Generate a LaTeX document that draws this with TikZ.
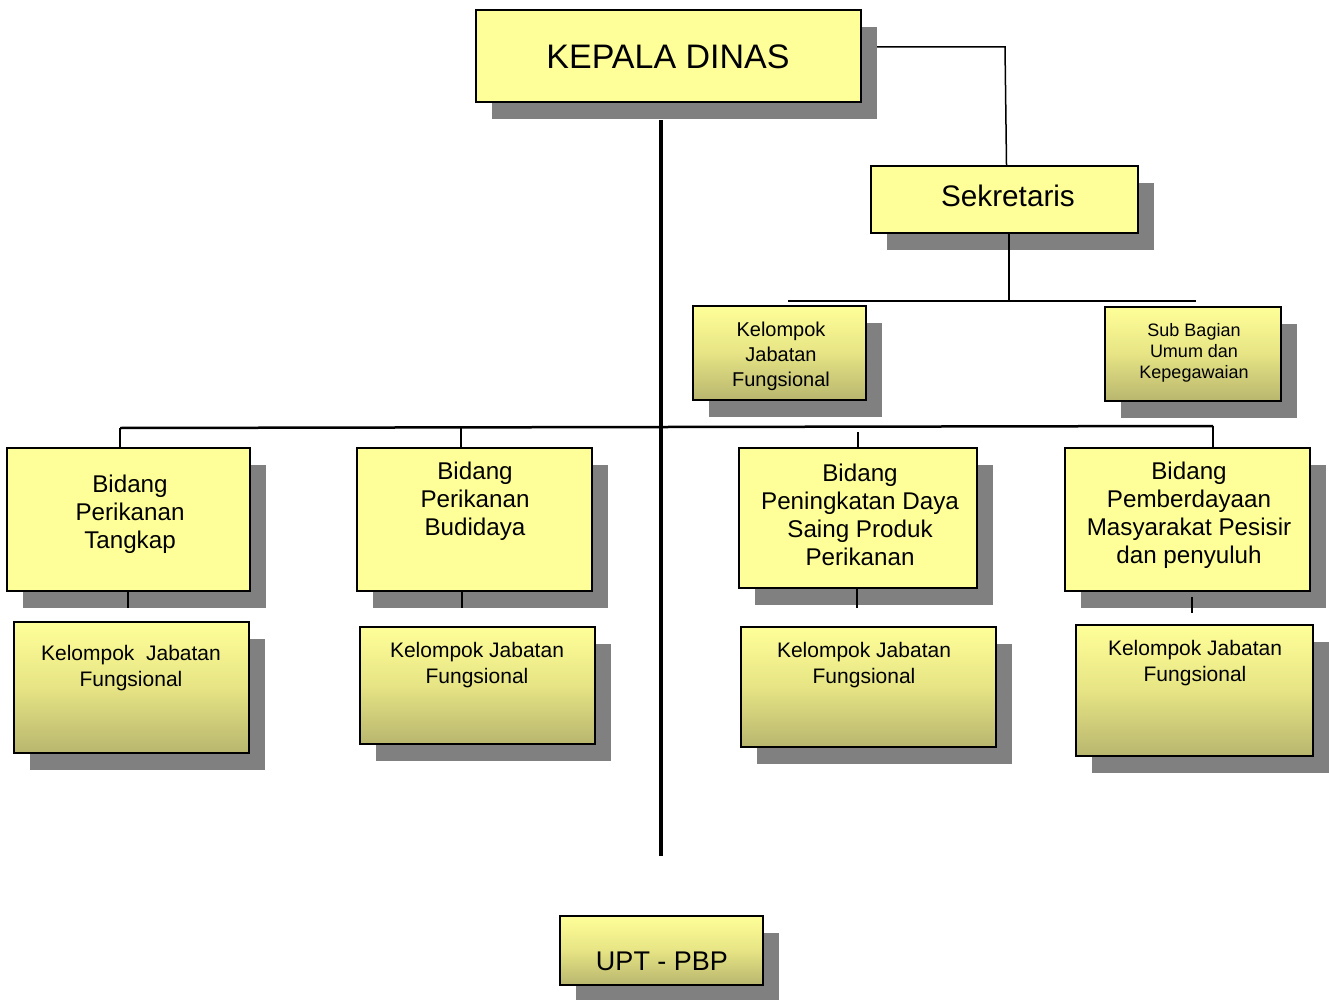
\documentclass[tikz,border=0pt]{standalone}
\usepackage{fontspec}
\setmainfont{Liberation Sans}
\usetikzlibrary{shadows}
\definecolor{boxyellow}{RGB}{255,255,153}
\definecolor{boxmid}{RGB}{230,228,132}
\definecolor{boxolive}{RGB}{184,182,110}
\definecolor{shadowgray}{RGB}{128,128,128}
\tikzset{
  orgbox/.style={draw=black, line width=2pt, fill=boxyellow, inner sep=0pt,
    general shadow={fill=shadowgray, shadow xshift=16pt, shadow yshift=-17pt}},
  gradbox/.style={orgbox, top color=boxyellow, bottom color=boxolive, middle color=boxmid},
  txt/.style={inner sep=0pt, align=center, text=black},
  thin link/.style={line width=1.5pt, black},
  bus/.style={line width=2.5pt, black},
  spine/.style={line width=4pt, black},
}
\begin{document}
\begin{tikzpicture}[x=1pt, y=-1pt]
\useasboundingbox (0,0) rectangle (1329,1000);

% boxes
\node[orgbox, minimum width=385pt, minimum height=92pt] (kd) at (668.5,56) {};
\node[orgbox, minimum width=267pt, minimum height=67pt] (sek) at (1004.5,199.5) {};
\node[gradbox, minimum width=173pt, minimum height=94pt] (kjs) at (779.5,353) {};
\node[gradbox, minimum width=176pt, minimum height=94pt] (sub) at (1193,354) {};
\node[orgbox, minimum width=243pt, minimum height=143pt] (b1) at (128.5,519.5) {};
\node[orgbox, minimum width=235pt, minimum height=143pt] (b2) at (474.5,519.5) {};
\node[orgbox, minimum width=238pt, minimum height=140pt] (b3) at (858,518) {};
\node[orgbox, minimum width=245pt, minimum height=143pt] (b4) at (1187.5,519.5) {};
\node[gradbox, minimum width=235pt, minimum height=131pt] (k1) at (131.5,687.5) {};
\node[gradbox, minimum width=235pt, minimum height=117pt] (k2) at (477.5,685.5) {};
\node[gradbox, minimum width=255pt, minimum height=120pt] (k3) at (868.5,687) {};
\node[gradbox, minimum width=237pt, minimum height=131pt] (k4) at (1194.5,690.5) {};
\node[gradbox, minimum width=203pt, minimum height=69pt] (upt) at (661.5,950.5) {};

% texts
\node[txt, font=\fontsize{34}{39}\selectfont] (tkd) at (668,57) {KEPALA DINAS};
\node[txt, font=\fontsize{29.7}{34}\selectfont] (tsek) at (1008,195.5) {Sekretaris};
\node[txt, font=\fontsize{20}{25}\selectfont] (tkjs) at (781,356) {Kelompok\\Jabatan\\Fungsional};
\node[txt, font=\fontsize{18}{21}\selectfont] (tsub) at (1194,353) {Sub Bagian\\Umum dan\\Kepegawaian};
\node[txt, font=\fontsize{24.2}{28}\selectfont] (tb1) at (130,514) {Bidang\\Perikanan\\Tangkap};
\node[txt, font=\fontsize{24.2}{28}\selectfont] (tb2) at (475,501) {Bidang\\Perikanan\\Budidaya};
\node[txt, font=\fontsize{24.2}{28}\selectfont] (tb3) at (860,515) {Bidang\\Peningkatan Daya\\Saing Produk\\Perikanan};
\node[txt, font=\fontsize{24.2}{28}\selectfont] (tb4) at (1189,515) {Bidang\\Pemberdayaan\\Masyarakat Pesisir\\dan penyuluh};
\node[txt, font=\fontsize{21}{26}\selectfont] (tk1) at (131,668) {Kelompok~ Jabatan\\Fungsional};
\node[txt, font=\fontsize{21}{26}\selectfont] (tk2) at (477,665) {Kelompok Jabatan\\Fungsional};
\node[txt, font=\fontsize{21}{26}\selectfont] (tk3) at (864,665) {Kelompok Jabatan\\Fungsional};
\node[txt, font=\fontsize{21}{26}\selectfont] (tk4) at (1195,663) {Kelompok Jabatan\\Fungsional};
\node[txt, font=\fontsize{27}{31}\selectfont] (tupt) at (662,961) {UPT - PBP};

% coordinates for free ends
\coordinate (kdR) at (877,47);
\coordinate (sekJ) at (1009,301);
\coordinate (busSL) at (788,301);
\coordinate (busSR) at (1196,301);
\coordinate (busL) at (120,428);
\coordinate (busR) at (1213,426);
\coordinate (spTop) at (661,120);
\coordinate (spBot) at (661,856);
\coordinate (d1) at (128,608);
\coordinate (d2) at (462,608);
\coordinate (d3) at (857,608);
\coordinate (d4a) at (1192,597);
\coordinate (d4) at (1192,613);

% connectors
\draw[thin link] (kdR) -- (1005,47) -- ([xshift=2pt]sek.north);
\draw[thin link] (sek.south -| sekJ) -- (sekJ);
\draw[bus] (busSL) -- (busSR);
\draw[bus] (busL) -- (busR);
\draw[thin link] (busL) -- (b1.north -| busL);
\draw[thin link] (461,428) -- (b2.north -| 461,0);
\draw[thin link] (858,432) -- (b3.north -| 858,0);
\draw[thin link] (busR) -- (b4.north -| busR);
\draw[thin link] (b1.south -| d1) -- (d1);
\draw[thin link] (b2.south -| d2) -- (d2);
\draw[thin link] (b3.south -| d3) -- (d3);
\draw[thin link] (d4a) -- (d4);
\draw[spine] (spTop) -- (spBot);
\end{tikzpicture}
\end{document}
